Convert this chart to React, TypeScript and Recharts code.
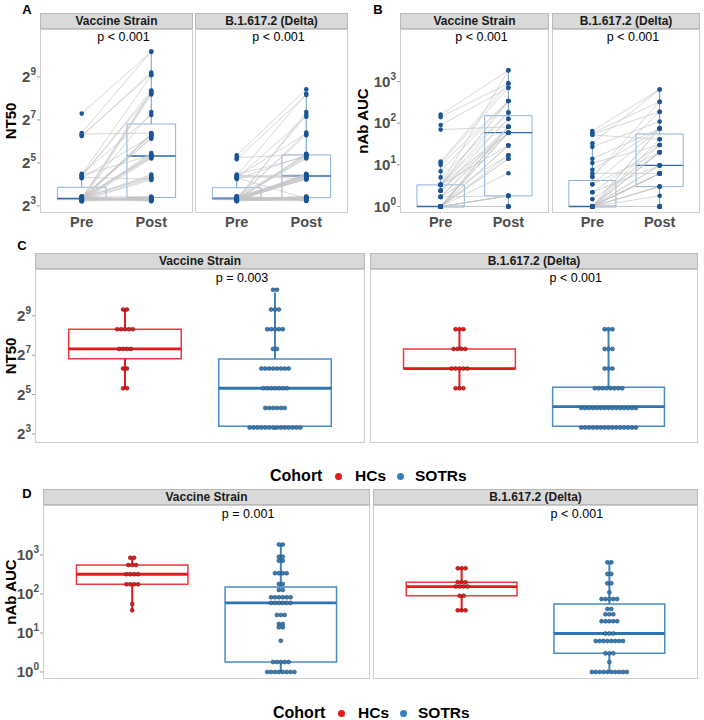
import React from 'react';
import { ComposedChart, Scatter, Line, XAxis, YAxis, ReferenceArea, ReferenceLine } from 'recharts';

const FONT = '"Liberation Sans", Arial, Helvetica, sans-serif';

// SOTRs, NT50, paired by subject index (pre[i] -> post[i])
const ntVaccinePre = [157, 84, 78, 76, 81, 22, 21, 20.5, 22.5, 19.5, 21.5, 20,
  9.4, 10.2, 9.8, 10.6, 9.6, 10, 10.4, 9.3, 10.8, 9.9, 10.1, 9.5, 10.5, 9.7, 10.3,
  9.4, 10.7, 10, 9.6, 10.2, 9.8, 10.9, 9.5, 10.4, 9.9, 10.1, 9.3, 10.6, 9.7, 10.3,
  10, 9.6, 10.5, 9.8, 10.2];
const ntVaccinePost = [1150, 1170, 560, 590, 84, 540, 300, 330, 150, 76, 41, 19,
  290, 320, 310, 165, 80, 72, 78, 83, 70, 81, 38, 42, 40, 44, 39, 37,
  20, 22, 18.5, 21, 19.5, 9.5, 10.3, 9.8, 10.6, 9.3, 10, 10.8, 9.6, 10.2, 9.9, 10.4, 9.4, 10.1, 9.7];
const ntDeltaPre = [41, 36, 38, 21, 19.5, 20.5, 22, 19, 20, 21.5, 20.8, 19.8,
  10.1, 9.5, 10.6, 9.8, 10.3, 9.4, 10.8, 10, 9.7, 10.4, 9.6, 10.2, 9.3, 10.5,
  9.9, 10.7, 9.5, 10.1, 9.8, 10.4, 9.6, 10.9, 10, 9.4, 10.3, 9.7, 10.6, 9.9,
  10.2, 9.5, 10.5, 9.8, 10, 10.7, 9.6];
const ntDeltaPost = [345, 286, 42, 300, 142, 82, 39, 41, 21, 19, 22, 10.2,
  150, 165, 78, 85, 38, 43, 40, 37, 42,
  20.5, 19, 21.5, 22, 18.8, 20, 21, 19.5, 22.5, 20.8, 19.2, 21.8,
  9.6, 10.4, 9.9, 10.7, 9.4, 10.1, 10.5, 9.7, 10.3, 9.5, 10.8, 9.8, 10.2, 10];

// SOTRs, nAb AUC, paired by subject index
const aucVaccinePre = [160, 140, 90, 70, 12, 11, 10, 7, 5,
  3.3, 3.3, 3.3, 3.3, 3.3, 3.3, 3.3, 2.4, 2.4, 2.4, 1.7, 1.7, 1.7, 1.7,
  1, 1, 1, 1, 1, 1, 1, 1, 1, 1, 1, 1, 1, 1, 1, 1, 1, 1, 1, 1, 1, 1, 1, 1];
const aucVaccinePost = [1850, 900, 710, 82, 900, 710, 340, 340, 180,
  1850, 340, 340, 180, 127, 59, 29, 127, 82, 59, 82, 59, 17, 1.8,
  82, 82, 82, 59, 59, 59, 29, 29, 17, 14, 14, 6.3, 1.8, 1.8, 1.8, 1.8, 1, 1, 1, 1, 1, 1, 1, 1];
const aucDeltaPre = [65, 58, 55, 52, 33, 27, 14, 11, 7.6, 6.3, 5.2, 5.2, 3.4, 3.4, 2.2, 2.2, 1.5,
  1, 1, 1, 1, 1, 1, 1, 1, 1, 1, 1, 1, 1, 1, 1, 1, 1, 1, 1, 1, 1, 1, 1, 1, 1, 1, 1, 1, 1, 1];
const aucDeltaPost = [645, 325, 187, 41, 645, 110, 74, 30, 74, 6.2, 325, 187, 74, 20, 30, 9.7, 20,
  74, 74, 41, 30, 20, 20, 20, 9.7, 9.7, 6.2, 6.2, 6.2, 6.2, 6.2, 6.2, 6.2, 3, 3, 3, 1.8,
  1, 1, 1, 1, 1, 1, 1, 1, 1, 1];

// healthy controls
const ntVaccineHC = [40, 40, 80, 80, 160, 160, 160, 160, 320, 320, 320, 320, 320, 640, 640];
const ntDeltaHC = [40, 40, 40, 80, 80, 80, 80, 80, 160, 160, 160, 160, 320, 320, 320];
const aucVaccineHC = [38, 55, 177, 177, 177, 177, 320, 320, 320, 320, 550, 550, 550, 850, 850];
const aucDeltaHC = [38, 38, 38, 90, 90, 155, 155, 155, 155, 200, 200, 200, 455, 455, 455];

const facetLabels = ['Vaccine Strain', 'B.1.617.2 (Delta)'];
const pLabelsA = ['p < 0.001', 'p < 0.001'];
const pLabelsB = ['p < 0.001', 'p < 0.001'];
const pLabelsC = ['p = 0.003', 'p < 0.001'];
const pLabelsD = ['p = 0.001', 'p < 0.001'];
const cohorts = ['HCs', 'SOTRs'];
const log2Ticks = [8, 32, 128, 512];
const log10Ticks = [1, 10, 100, 1000];

const RED = '#E41A1C';
const BLUE = '#377EB8';

// quantiles on the log scale, like ggplot with a log transform
const quant = (s: number[], p: number) => {
  const h = (s.length - 1) * p;
  const lo = Math.floor(h);
  const hi = Math.min(lo + 1, s.length - 1);
  return s[lo] + (h - lo) * (s[hi] - s[lo]);
};
function boxStats(vals: number[]) {
  const s = vals.map(Math.log).sort((a, b) => a - b);
  const q1 = quant(s, 0.25), med = quant(s, 0.5), q3 = quant(s, 0.75);
  const iqr = q3 - q1;
  const lo = s.find((v) => v >= q1 - 1.5 * iqr)!;
  const hi = [...s].reverse().find((v) => v <= q3 + 1.5 * iqr)!;
  return { q1: Math.exp(q1), med: Math.exp(med), q3: Math.exp(q3), lo: Math.exp(lo), hi: Math.exp(hi) };
}

// dilution bins for the NT50 dotplot (10, 20, 40 ...); AUC values stack as they are
const ntBin = (v: number) => 10 * Math.pow(2, Math.round(Math.log2(v / 10)));
const noBin = (v: number) => v;

function dotRows(vals: number[], g: number, dx: number, binOf: (v: number) => number) {
  const counts = new Map<number, number>();
  vals.forEach((v) => { const b = binOf(v); counts.set(b, (counts.get(b) || 0) + 1); });
  const out: { x: number; y: number }[] = [];
  counts.forEach((n, v) => {
    for (let i = 0; i < n; i++) out.push({ x: g + (i - (n - 1) / 2) * dx, y: v });
  });
  return out;
}

const PowTick = (props: any) => {
  const { x, y, payload, base } = props;
  const e = Math.round(Math.log(payload.value) / Math.log(base));
  return (
    <text x={x} y={y + 5} textAnchor="end" fill="#4D4D4D" fontSize={15} fontWeight="bold" fontFamily={FONT}>
      {base}
      <tspan dy={-7} fontSize={10}>{e}</tspan>
    </text>
  );
};

function boxElems(key: string, g: number, st: any, hw: number, c: any) {
  return [
    <ReferenceLine key={key + 'w1'} segment={[{ x: g, y: st.lo }, { x: g, y: st.q1 }]} stroke={c.whisker} strokeWidth={c.ww} />,
    <ReferenceLine key={key + 'w2'} segment={[{ x: g, y: st.q3 }, { x: g, y: st.hi }]} stroke={c.whisker} strokeWidth={c.ww} />,
    <ReferenceArea key={key + 'b'} x1={g - hw} x2={g + hw} y1={st.q1} y2={st.q3} fill="none" fillOpacity={0} stroke={c.box} strokeWidth={c.bw} strokeOpacity={1} />,
    <ReferenceLine key={key + 'm'} segment={[{ x: g - hw, y: st.med }, { x: g + hw, y: st.med }]} stroke={c.med} strokeWidth={c.mw} />,
  ];
}

const YW = 34;
const pairedStyle = { whisker: '#6C9BCF', ww: 1, box: '#8DB2DA', bw: 1, med: '#2C69AD', mw: 1.3 };

function PairedFacet({ f, top, h, pre, post, domain, ticks, base, showY }: any) {
  const pts = [...pre.map((v: number) => ({ x: 1, y: v })), ...post.map((v: number) => ({ x: 2, y: v }))];
  return (
    <div style={{ position: 'absolute', left: f.x - YW, top }}>
      <ComposedChart width={f.w + YW} height={h + 24} margin={{ top: 0, right: 0, bottom: 0, left: 0 }}>
        <XAxis type="number" dataKey="x" domain={[0.4, 2.6]} ticks={[1, 2]} allowDataOverflow interval={0}
          tickFormatter={(v) => (v === 1 ? 'Pre' : 'Post')} height={24} axisLine={false} tickLine={false}
          tickSize={0} tickMargin={4} tick={{ fill: '#4D4D4D', fontSize: 14.5, fontWeight: 'bold', fontFamily: FONT }} />
        <YAxis type="number" dataKey="y" scale="log" domain={domain} ticks={ticks} allowDataOverflow width={YW} interval={0}
          axisLine={false} tickLine={showY ? { stroke: '#9A9A9A' } : false} tickSize={3} tickMargin={1}
          tick={showY ? (p: any) => <PowTick {...p} base={base} /> : false} />
        {boxElems('pre', 1, boxStats(pre), 0.35, pairedStyle)}
        {boxElems('post', 2, boxStats(post), 0.35, pairedStyle)}
        {pre.map((v: number, i: number) => (
          <Line key={'l' + i} data={[{ x: 1, y: v }, { x: 2, y: post[i] }]} dataKey="y" type="linear"
            stroke="#C6C6C6" strokeWidth={0.7} dot={false} activeDot={false} isAnimationActive={false} legendType="none" />
        ))}
        <Scatter data={pts} isAnimationActive={false}
          shape={(p: any) => <circle cx={p.cx} cy={p.cy} r={2.3} fill="#1A5596" />} />
      </ComposedChart>
    </div>
  );
}

const hcStyle = { whisker: RED, ww: 2, box: '#EE3A3F', bw: 1.5, med: RED, mw: 2.8 };
const soStyle = { whisker: '#3F84C0', ww: 2, box: '#4A8CC6', bw: 1.5, med: '#2F74B2', mw: 2.8 };

function CohortFacet({ f, top, h, hc, sot, domain, ticks, base, showY, binOf }: any) {
  const dx = 3.9 / (f.w / 2.2);
  const hcPts = dotRows(hc, 1, dx, binOf);
  const soPts = dotRows(sot, 2, dx, binOf);
  return (
    <div style={{ position: 'absolute', left: f.x - YW, top }}>
      <ComposedChart width={f.w + YW} height={h} margin={{ top: 0, right: 0, bottom: 0, left: 0 }}>
        <XAxis type="number" dataKey="x" domain={[0.4, 2.6]} allowDataOverflow hide />
        <YAxis type="number" dataKey="y" scale="log" domain={domain} ticks={ticks} allowDataOverflow width={YW} interval={0}
          axisLine={false} tickLine={showY ? { stroke: '#9A9A9A' } : false} tickSize={3} tickMargin={1}
          tick={showY ? (p: any) => <PowTick {...p} base={base} /> : false} />
        {boxElems('hc', 1, boxStats(hc), 0.375, hcStyle)}
        {boxElems('so', 2, boxStats(sot), 0.375, soStyle)}
        <Scatter data={hcPts} isAnimationActive={false}
          shape={(p: any) => <circle cx={p.cx} cy={p.cy} r={2} fill={RED} stroke="#5A1A1A" strokeWidth={0.5} />} />
        <Scatter data={soPts} isAnimationActive={false}
          shape={(p: any) => <circle cx={p.cx} cy={p.cy} r={2} fill={BLUE} stroke="#1F3F5F" strokeWidth={0.5} />} />
      </ComposedChart>
    </div>
  );
}

const Strip = ({ x, y, w, label }: any) => (
  <div style={{
    position: 'absolute', left: x, top: y, width: w, height: 16, background: '#D9D9D9',
    border: '1px solid #B8B8B8', boxSizing: 'border-box', font: `bold 12px ${FONT}`, color: '#1A1A1A',
    textAlign: 'center', lineHeight: '14px', whiteSpace: 'nowrap',
  }}>{label}</div>
);

const Frame = ({ x, y, w, h }: any) => (
  <div style={{ position: 'absolute', left: x, top: y, width: w, height: h, border: '1px solid #CDCDCD', boxSizing: 'border-box', pointerEvents: 'none' }} />
);

const Txt = ({ x, y, children, size = 12.5, bold = false, color = '#000', rotate = false }: any) => (
  <div style={{
    position: 'absolute', left: x, top: y, transform: `translate(-50%, -50%)${rotate ? ' rotate(-90deg)' : ''}`,
    font: `${bold ? 'bold ' : ''}${size}px ${FONT}`, color, whiteSpace: 'nowrap', lineHeight: 1,
  }}>{children}</div>
);

const Legend = ({ y, x0 }: any) => (
  <>
    <div style={{ position: 'absolute', left: x0, top: y - 9, font: `bold 16px ${FONT}`, lineHeight: '18px' }}>Cohort</div>
    <div style={{ position: 'absolute', left: x0 + 65, top: y - 3.5, width: 7, height: 7, borderRadius: 4, background: RED }} />
    <div style={{ position: 'absolute', left: x0 + 85, top: y - 9, font: `bold 15.5px ${FONT}`, lineHeight: '18px' }}>{cohorts[0]}</div>
    <div style={{ position: 'absolute', left: x0 + 127, top: y - 3.5, width: 7, height: 7, borderRadius: 4, background: BLUE }} />
    <div style={{ position: 'absolute', left: x0 + 145, top: y - 9, font: `bold 15.5px ${FONT}`, lineHeight: '18px' }}>{cohorts[1]}</div>
  </>
);

export default function App() {
  const aF = [{ x: 40, w: 153 }, { x: 195, w: 153 }];
  const bF = [{ x: 400, w: 149 }, { x: 552, w: 148 }];
  const cF = [{ x: 35, w: 330 }, { x: 370, w: 328 }];
  const dF = [{ x: 43, w: 327 }, { x: 373, w: 325 }];
  const abTop = 29, abH = 184;
  const cTop = 269, dTop = 505, cdH = 174;
  const domA = [Math.pow(2, 2.67), Math.pow(2, 11.23)];
  const domB = [Math.pow(10, -0.156), Math.pow(10, 4.26)];
  const domC = [Math.pow(2, 2.54), Math.pow(2, 11.38)];
  const domD = [Math.pow(10, -0.18), Math.pow(10, 4.28)];
  const ntPairs = [[ntVaccinePre, ntVaccinePost], [ntDeltaPre, ntDeltaPost]];
  const aucPairs = [[aucVaccinePre, aucVaccinePost], [aucDeltaPre, aucDeltaPost]];
  const ntCoh = [[ntVaccineHC, ntVaccinePost], [ntDeltaHC, ntDeltaPost]];
  const aucCoh = [[aucVaccineHC, aucVaccinePost], [aucDeltaHC, aucDeltaPost]];

  return (
    <div style={{ position: 'absolute', left: 0, top: 0, width: 704, height: 720, background: '#fff', fontFamily: FONT }}>
      {/* panel letters */}
      <Txt x={27} y={9} size={13} bold>A</Txt>
      <Txt x={378} y={9} size={13} bold>B</Txt>
      <Txt x={22} y={245} size={13} bold>C</Txt>
      <Txt x={27} y={493} size={13} bold>D</Txt>

      {/* A */}
      {aF.map((f, i) => (
        <React.Fragment key={'a' + i}>
          <PairedFacet f={f} top={abTop} h={abH} pre={ntPairs[i][0]} post={ntPairs[i][1]} domain={domA} ticks={log2Ticks} base={2} showY={i === 0} />
          <Strip x={f.x} y={13} w={f.w} label={facetLabels[i]} />
          <Frame x={f.x} y={abTop} w={f.w} h={abH} />
          <Txt x={f.x + f.w / 2 + 7} y={37}>{pLabelsA[i]}</Txt>
        </React.Fragment>
      ))}
      <Txt x={10} y={121} size={15} bold rotate>NT50</Txt>

      {/* B */}
      {bF.map((f, i) => (
        <React.Fragment key={'b' + i}>
          <PairedFacet f={f} top={abTop} h={abH} pre={aucPairs[i][0]} post={aucPairs[i][1]} domain={domB} ticks={log10Ticks} base={10} showY={i === 0} />
          <Strip x={f.x} y={13} w={f.w} label={facetLabels[i]} />
          <Frame x={f.x} y={abTop} w={f.w} h={abH} />
          <Txt x={f.x + f.w / 2 + 7} y={37}>{pLabelsB[i]}</Txt>
        </React.Fragment>
      ))}
      <Txt x={362} y={121} size={15} bold rotate>nAb AUC</Txt>

      {/* C */}
      {cF.map((f, i) => (
        <React.Fragment key={'c' + i}>
          <CohortFacet f={f} top={cTop} h={cdH} hc={ntCoh[i][0]} sot={ntCoh[i][1]} domain={domC} ticks={log2Ticks} base={2} showY={i === 0} binOf={ntBin} />
          <Strip x={f.x} y={253} w={f.w} label={facetLabels[i]} />
          <Frame x={f.x} y={cTop} w={f.w} h={cdH} />
          <Txt x={f.x + (f.w / 2.2) * 1.38} y={278}>{pLabelsC[i]}</Txt>
        </React.Fragment>
      ))}
      <Txt x={10} y={356} size={15} bold rotate>NT50</Txt>
      <Legend y={476} x0={270} />

      {/* D */}
      {dF.map((f, i) => (
        <React.Fragment key={'d' + i}>
          <CohortFacet f={f} top={dTop} h={cdH} hc={aucCoh[i][0]} sot={aucCoh[i][1]} domain={domD} ticks={log10Ticks} base={10} showY={i === 0} binOf={noBin} />
          <Strip x={f.x} y={489} w={f.w} label={facetLabels[i]} />
          <Frame x={f.x} y={dTop} w={f.w} h={cdH} />
          <Txt x={f.x + (f.w / 2.2) * 1.38} y={514}>{pLabelsD[i]}</Txt>
        </React.Fragment>
      ))}
      <Txt x={10} y={592} size={15} bold rotate>nAb AUC</Txt>
      <Legend y={713} x0={273} />
    </div>
  );
}
